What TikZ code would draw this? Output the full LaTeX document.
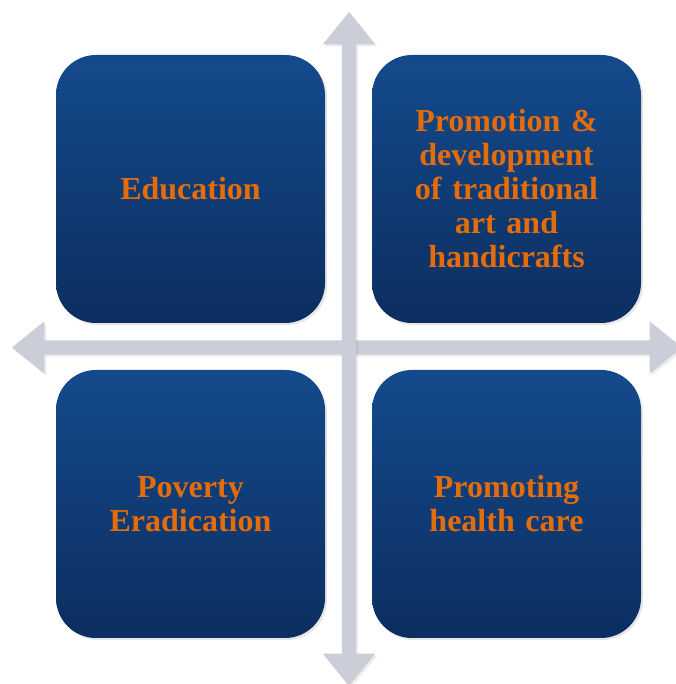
\documentclass[tikz,border=0pt]{standalone}
\usepackage{fontspec}
\setmainfont{Liberation Serif}
\usetikzlibrary{shapes,shadows}

\definecolor{boxtop}{RGB}{20,74,140}
\definecolor{boxbottom}{RGB}{12,46,96}
\definecolor{axisgray}{RGB}{203,206,216}
\definecolor{labelorange}{RGB}{228,108,10}

\begin{document}
\begin{tikzpicture}[
    x=1pt, y=1pt,
    block/.style={rectangle, rounded corners=40pt, top color=boxtop, bottom color=boxbottom,
        minimum width=269pt, minimum height=268pt, text width=250pt, align=center,
        font=\fontsize{32}{34}\selectfont\bfseries, text=labelorange,
        drop shadow={shadow xshift=2pt, shadow yshift=-2pt, opacity=0.2}},
    axis/.style={double arrow, fill=axisgray, inner xsep=0pt, inner ysep=7pt,
        double arrow head extend=19pt, double arrow tip angle=78,
        drop shadow={shadow xshift=2pt, shadow yshift=-2pt, opacity=0.15}}
]
\useasboundingbox (0,0) rectangle (675,684);

% Crossing axes
\node [axis, minimum height=670pt] (horiz) at (347,336.5) {};
\node [axis, minimum height=674pt, rotate=90] (vert) at (349,335) {};

% Four quadrants
\node [block] (edu) at (190.5,495) {Education};
\node [block] (art) at (506.5,495) {Promotion \&\\development\\of traditional\\art and\\handicrafts};
\node [block] (poverty) at (190.5,180) {Poverty\\Eradication};
\node [block] (health) at (506.5,180) {Promoting\\health care};

\end{tikzpicture}
\end{document}
